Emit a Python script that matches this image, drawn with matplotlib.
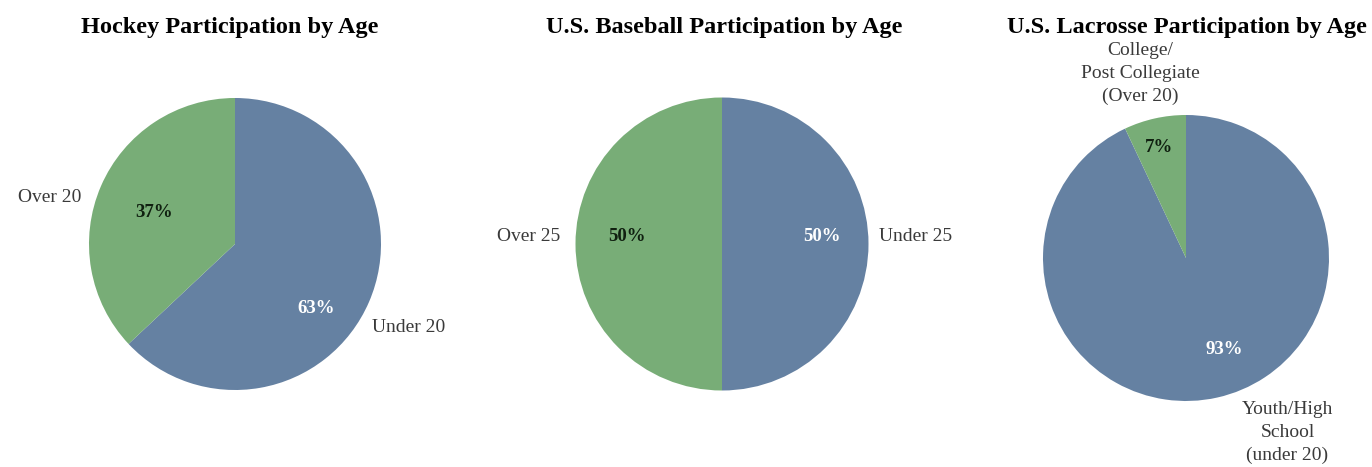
import matplotlib
matplotlib.use("Agg")
import matplotlib.pyplot as plt

plt.rcParams['font.family'] = ['Liberation Serif', 'DejaVu Serif']

BLUE = '#6581a2'
GREEN = '#78ad77'

# data
hockey_labels = ['Under 20', 'Over 20']
hockey_values = [63, 37]
baseball_labels = ['Under 25', 'Over 25']
baseball_values = [50, 50]
lacrosse_labels = ['Youth/High\nSchool\n(under 20)', 'College/\nPost Collegiate\n(Over 20)']
lacrosse_values = [93, 7]

titles = ['Hockey Participation by Age',
          'U.S. Baseball Participation by Age',
          'U.S. Lacrosse Participation by Age']

W, H = 1372, 467
fig = plt.figure(figsize=(W / 100, H / 100), dpi=100)

# layout: (center x px, center y px from top, radius px, title center x px)
layout = [
    (235, 244, 146, 230),
    (722, 244, 146.5, 724),
    (1186, 258, 143, 1187),
]
# label placements in pie units: (name pos, name ha, pct pos) for each wedge
label_pos = [
    [((0.94, -0.575), 'left', (0.555, -0.445)),
     ((-1.05, 0.32), 'right', (-0.555, 0.219))],
    [((1.07, 0.05), 'left', (0.68, 0.05)),
     ((-1.106, 0.05), 'right', (-0.65, 0.05))],
    [((0.71, -1.22), 'center', (0.27, -0.64)),
     ((-0.32, 1.29), 'center', (-0.19, 0.776))],
]
datasets = [(hockey_labels, hockey_values),
            (baseball_labels, baseball_values),
            (lacrosse_labels, lacrosse_values)]
pct_colors = ['white', '#102010']

for (cx, cy, r, tx), (labels, values), title, lp in zip(layout, datasets, titles, label_pos):
    ax = fig.add_axes([(cx - r) / W, (H - cy - r) / H, 2 * r / W, 2 * r / H])
    ax.pie(values, colors=[BLUE, GREEN], startangle=90, counterclock=False,
           radius=1, wedgeprops=dict(linewidth=0))
    ax.set_xlim(-1, 1)
    ax.set_ylim(-1, 1)
    ax.set_aspect('equal')
    ax.axis('off')
    tot = sum(values)
    for i, (lab, val) in enumerate(zip(labels, values)):
        (nx, ny), ha, (px, py) = lp[i]
        ax.text(nx, ny, lab, ha=ha, va='center', fontsize=14, color='#3a3a3a',
                linespacing=1.45, multialignment='center', clip_on=False)
        ax.text(px, py, f'{round(val / tot * 100)}%', ha='center', va='center',
                fontsize=13.5, fontweight='bold', color=pct_colors[i], clip_on=False)
    fig.text(tx / W, 1 - 27 / H, title, ha='center', va='center',
             fontsize=17.5, fontweight='bold', color='black')

fig.savefig('out.png', dpi=100)
